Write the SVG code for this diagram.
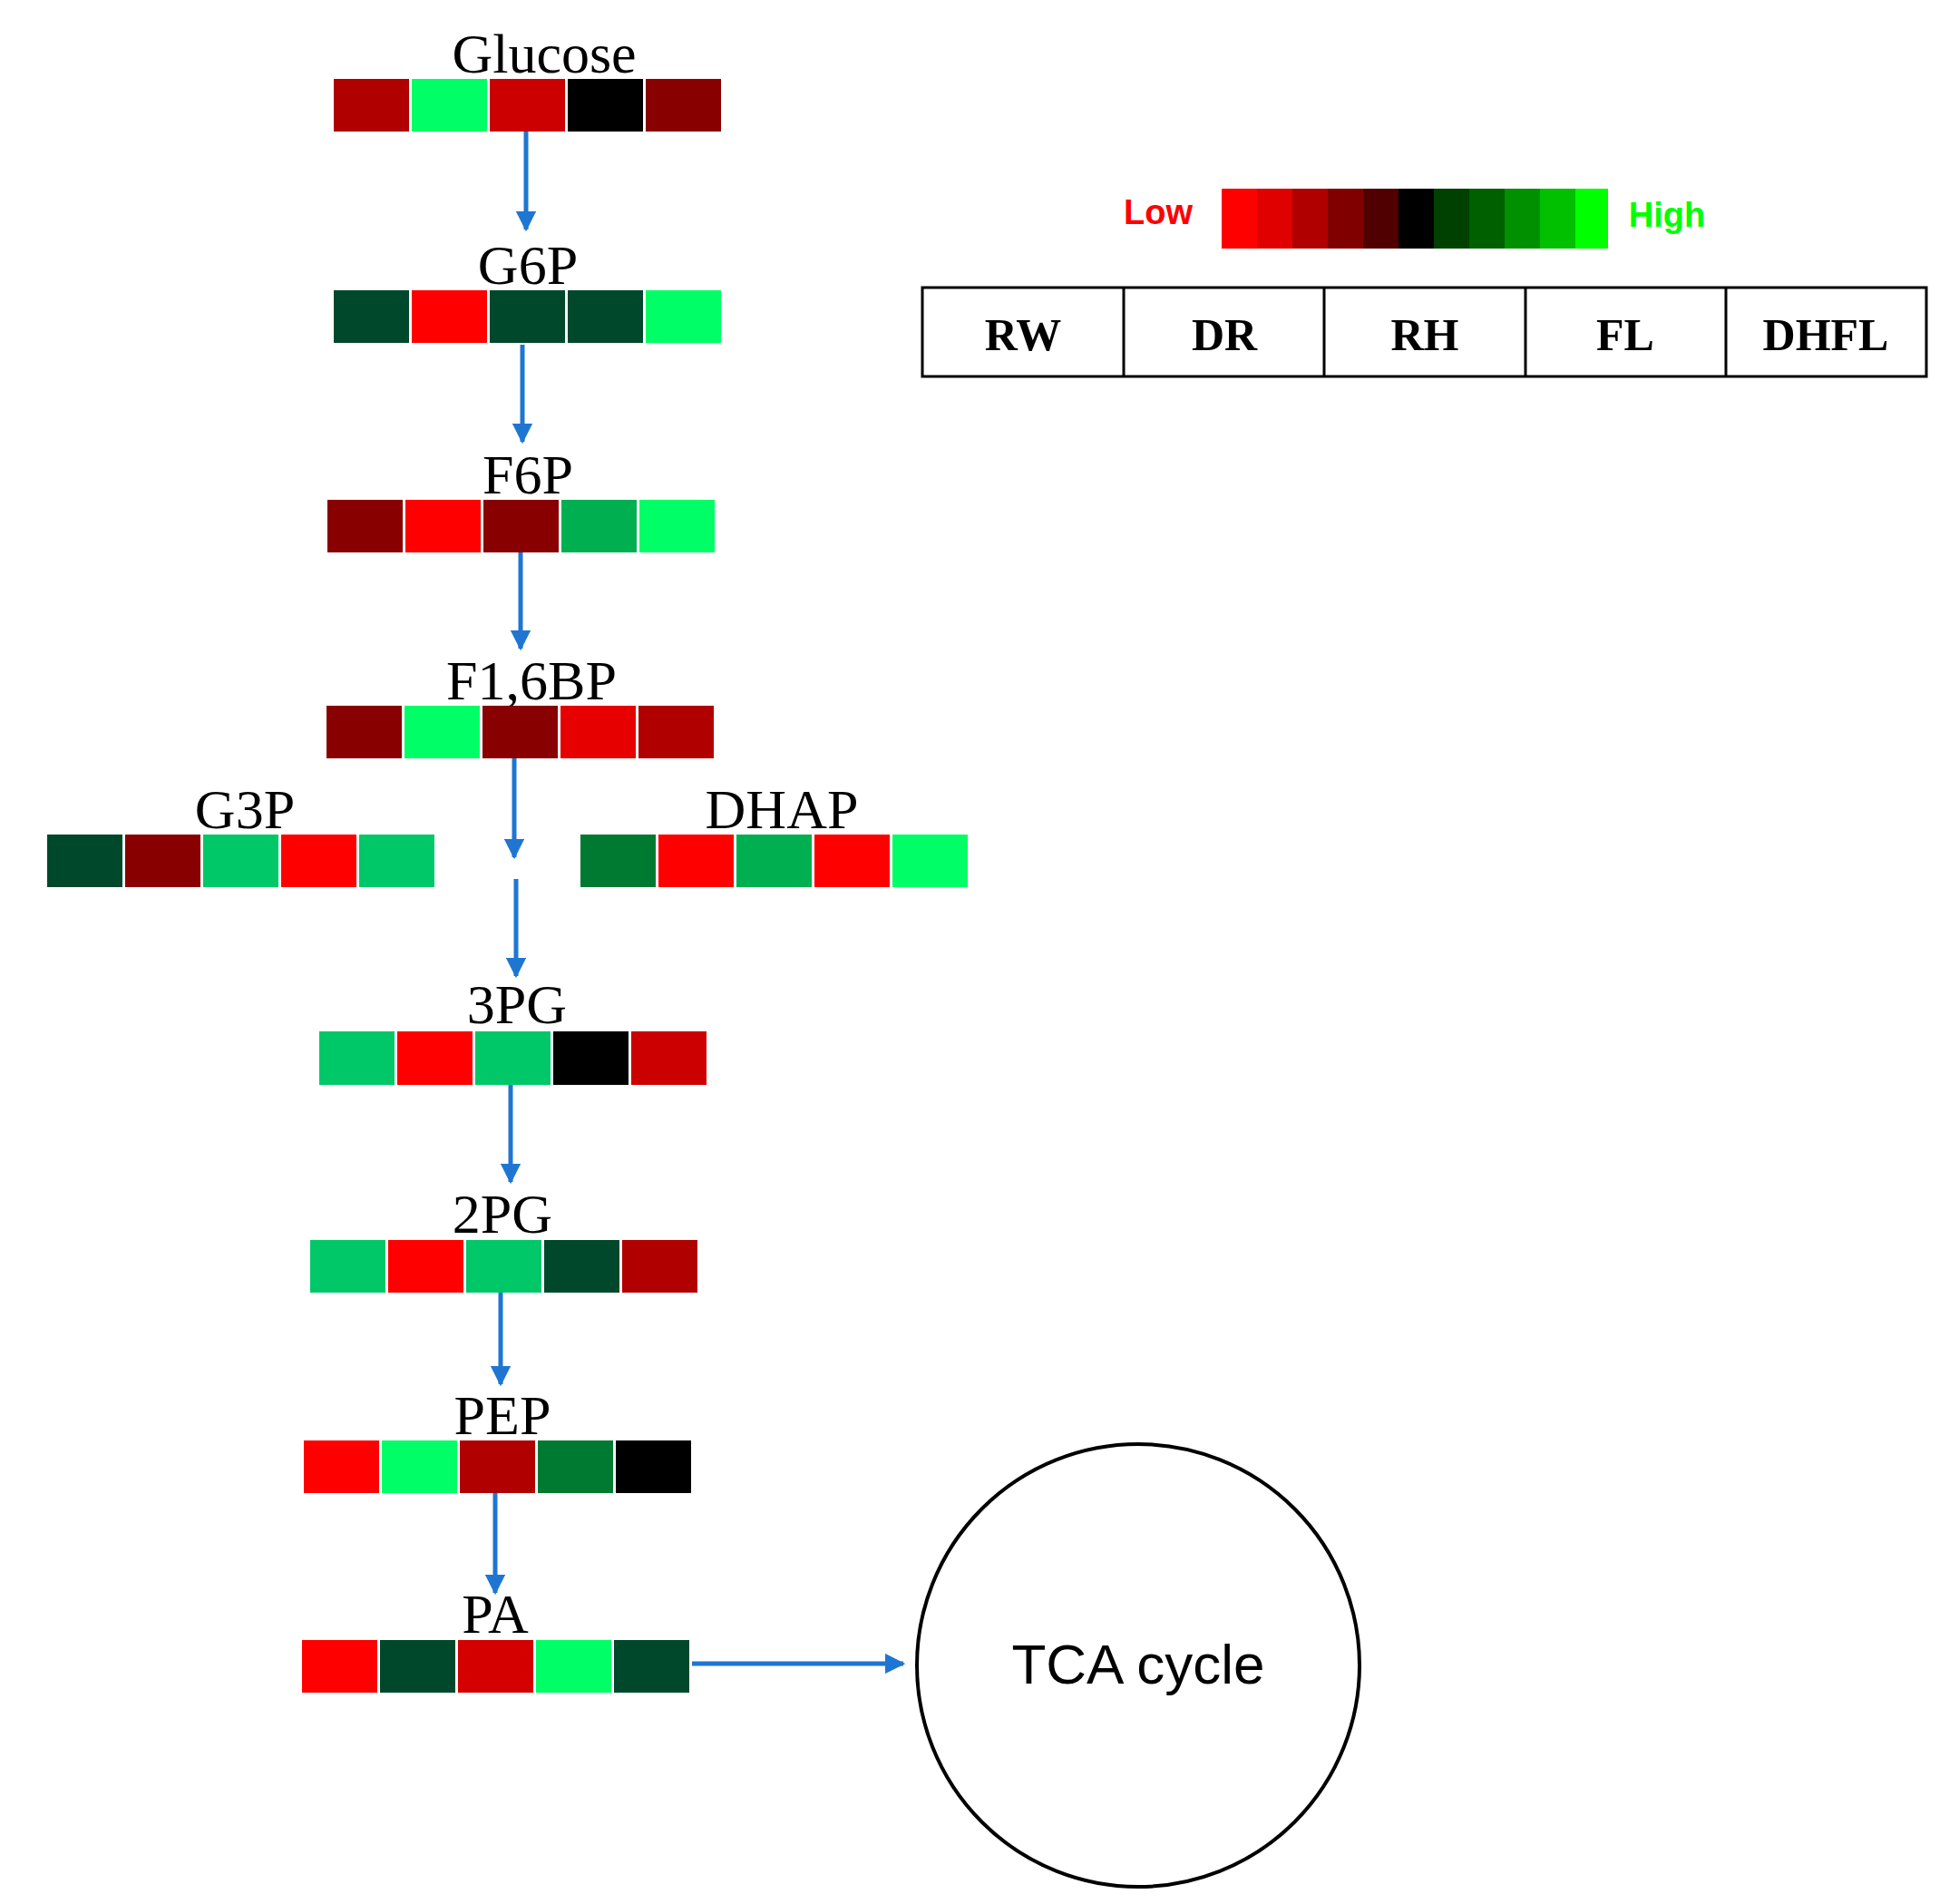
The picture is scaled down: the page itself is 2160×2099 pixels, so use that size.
<svg xmlns="http://www.w3.org/2000/svg" width="2160" height="2099" viewBox="0 0 2160 2099">
<style>
.lbl{font-family:"Liberation Serif","Times New Roman",serif;font-size:62px;fill:#000;text-anchor:middle}
.hd{font-family:"Liberation Serif","Times New Roman",serif;font-size:50px;font-weight:bold;fill:#000;text-anchor:middle}
.ar{stroke:#1f76d2;stroke-width:5;fill:none;marker-end:url(#ah)}
</style>
<defs>
<marker id="ah" viewBox="0 0 10 10" refX="9" refY="5" markerWidth="4.5" markerHeight="4.5" orient="auto" markerUnits="strokeWidth"><path d="M0,0 L10,5 L0,10 z" fill="#1f76d2"/></marker>
</defs>
<rect width="2160" height="2099" fill="#fff"/>
<g id="glucose"><text class="lbl" x="600" y="80">Glucose</text>
<rect x="368" y="87" width="83" height="58" fill="#b00000"/><rect x="454" y="87" width="83" height="58" fill="#00ff66"/><rect x="540" y="87" width="83" height="58" fill="#cc0000"/><rect x="626" y="87" width="83" height="58" fill="#000"/><rect x="712" y="87" width="83" height="58" fill="#880000"/></g>
<g id="g6p"><text class="lbl" x="582" y="313">G6P</text>
<rect x="368" y="320" width="83" height="58" fill="#00482c"/><rect x="454" y="320" width="83" height="58" fill="#ff0000"/><rect x="540" y="320" width="83" height="58" fill="#00482c"/><rect x="626" y="320" width="83" height="58" fill="#00482c"/><rect x="712" y="320" width="83" height="58" fill="#00ff66"/></g>
<g id="f6p"><text class="lbl" x="582" y="544">F6P</text>
<rect x="361" y="551" width="83" height="58" fill="#880000"/><rect x="447" y="551" width="83" height="58" fill="#ff0000"/><rect x="533" y="551" width="83" height="58" fill="#880000"/><rect x="619" y="551" width="83" height="58" fill="#00b050"/><rect x="705" y="551" width="83" height="58" fill="#00ff66"/></g>
<g id="f16bp"><text class="lbl" x="586" y="771">F1,6BP</text>
<rect x="360" y="778" width="83" height="58" fill="#880000"/><rect x="446" y="778" width="83" height="58" fill="#00ff66"/><rect x="532" y="778" width="83" height="58" fill="#880000"/><rect x="618" y="778" width="83" height="58" fill="#e60000"/><rect x="704" y="778" width="83" height="58" fill="#b00000"/></g>
<g id="g3p"><text class="lbl" x="270" y="913">G3P</text>
<rect x="52" y="920" width="83" height="58" fill="#00482c"/><rect x="138" y="920" width="83" height="58" fill="#880000"/><rect x="224" y="920" width="83" height="58" fill="#00c868"/><rect x="310" y="920" width="83" height="58" fill="#ff0000"/><rect x="396" y="920" width="83" height="58" fill="#00c868"/></g>
<g id="dhap"><text class="lbl" x="862" y="913">DHAP</text>
<rect x="640" y="920" width="83" height="58" fill="#007a30"/><rect x="726" y="920" width="83" height="58" fill="#ff0000"/><rect x="812" y="920" width="83" height="58" fill="#00b050"/><rect x="898" y="920" width="83" height="58" fill="#ff0000"/><rect x="984" y="920" width="83" height="58" fill="#00ff66"/></g>
<g id="pg3"><text class="lbl" x="570" y="1128">3PG</text>
<rect x="352" y="1137" width="83" height="59" fill="#00c868"/><rect x="438" y="1137" width="83" height="59" fill="#ff0000"/><rect x="524" y="1137" width="83" height="59" fill="#00c868"/><rect x="610" y="1137" width="83" height="59" fill="#000"/><rect x="696" y="1137" width="83" height="59" fill="#cc0000"/></g>
<g id="pg2"><text class="lbl" x="554" y="1359">2PG</text>
<rect x="342" y="1367" width="83" height="58" fill="#00c868"/><rect x="428" y="1367" width="83" height="58" fill="#ff0000"/><rect x="514" y="1367" width="83" height="58" fill="#00c868"/><rect x="600" y="1367" width="83" height="58" fill="#00482c"/><rect x="686" y="1367" width="83" height="58" fill="#b00000"/></g>
<g id="pep"><text class="lbl" x="554" y="1581">PEP</text>
<rect x="335" y="1588" width="83" height="58" fill="#ff0000"/><rect x="421" y="1588" width="83" height="58" fill="#00ff66"/><rect x="507" y="1588" width="83" height="58" fill="#b00000"/><rect x="593" y="1588" width="83" height="58" fill="#007a30"/><rect x="679" y="1588" width="83" height="58" fill="#000"/></g>
<g id="pa"><text class="lbl" x="546" y="1800">PA</text>
<rect x="333" y="1808" width="83" height="58" fill="#ff0000"/><rect x="419" y="1808" width="83" height="58" fill="#00482c"/><rect x="505" y="1808" width="83" height="58" fill="#d40000"/><rect x="591" y="1808" width="83" height="58" fill="#00ff66"/><rect x="677" y="1808" width="83" height="58" fill="#00482c"/></g>
<g id="tca"><circle cx="1255" cy="1836" r="244" fill="none" stroke="#000" stroke-width="4"/>
<text x="1255" y="1856" font-family="'Liberation Sans',Arial,sans-serif" font-size="62" text-anchor="middle">TCA cycle</text></g>
<g id="legend">
<text x="1277" y="247" font-family="'Liberation Sans',Arial,sans-serif" font-size="38" font-weight="bold" fill="#ff0000" text-anchor="middle">Low</text>
<text x="1838" y="250" font-family="'Liberation Sans',Arial,sans-serif" font-size="38" font-weight="bold" fill="#00ff00" text-anchor="middle">High</text>
<rect x="1347" y="208" width="39" height="66" fill="#ff0000"/><rect x="1386" y="208" width="39" height="66" fill="#e00000"/><rect x="1425" y="208" width="39" height="66" fill="#b00000"/><rect x="1464" y="208" width="39" height="66" fill="#800000"/><rect x="1503" y="208" width="39" height="66" fill="#500000"/><rect x="1542" y="208" width="39" height="66" fill="#000"/><rect x="1581" y="208" width="39" height="66" fill="#004000"/><rect x="1620" y="208" width="39" height="66" fill="#006000"/><rect x="1659" y="208" width="39" height="66" fill="#009000"/><rect x="1698" y="208" width="39" height="66" fill="#00c000"/><rect x="1737" y="208" width="36" height="66" fill="#00ff00"/>
</g>
<g id="table" fill="none" stroke="#000" stroke-width="3">
<rect x="1017" y="317" width="1107" height="98"/>
<line x1="1239" y1="317" x2="1239" y2="415"/><line x1="1460" y1="317" x2="1460" y2="415"/><line x1="1682" y1="317" x2="1682" y2="415"/><line x1="1903" y1="317" x2="1903" y2="415"/>
</g>
<g id="table-text">
<text class="hd" x="1128" y="386">RW</text><text class="hd" x="1350" y="386">DR</text><text class="hd" x="1571" y="386">RH</text><text class="hd" x="1792" y="386">FL</text><text class="hd" x="2013" y="386">DHFL</text>
</g>
<g id="connectors">
<line class="ar" x1="580" y1="145" x2="580" y2="253"/>
<line class="ar" x1="576" y1="380" x2="576" y2="487"/>
<line class="ar" x1="574" y1="609" x2="574" y2="715"/>
<line class="ar" x1="567" y1="836" x2="567" y2="945"/>
<line class="ar" x1="569" y1="969" x2="569" y2="1076"/>
<line class="ar" x1="563" y1="1196" x2="563" y2="1303"/>
<line class="ar" x1="552" y1="1425" x2="552" y2="1526"/>
<line class="ar" x1="546" y1="1646" x2="546" y2="1756"/>
<line class="ar" x1="763" y1="1834" x2="996" y2="1834"/>
</g>
</svg>
